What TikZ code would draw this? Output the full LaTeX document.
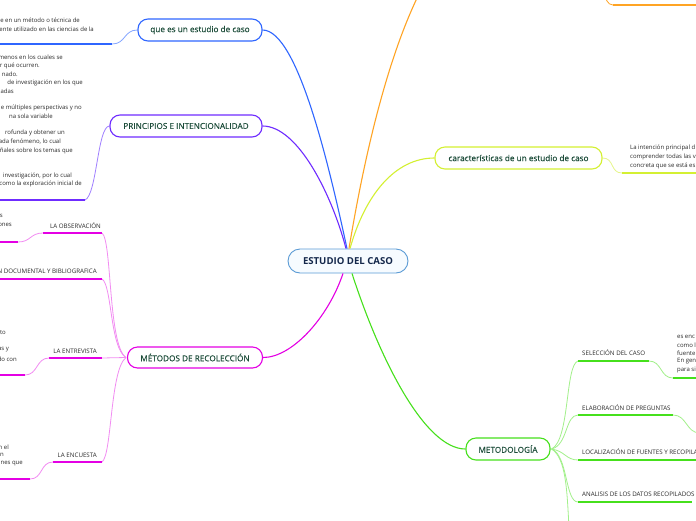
\documentclass[tikz,border=0pt]{standalone}
\usepackage{fontspec}
\setmainfont{Open Sans}
\newfontfamily\nodefam[FakeBold=0.3]{Open Sans}
\definecolor{cblue}{HTML}{5B9BD5}
\definecolor{cfill}{HTML}{F6FBFF}
\definecolor{ctext}{HTML}{14284B}
\definecolor{ntext}{HTML}{1D4D3A}
\definecolor{btext}{HTML}{2A2A2A}
\definecolor{qblue}{HTML}{2F66FF}
\definecolor{qbluel}{HTML}{85A6FF}
\definecolor{ppur}{HTML}{6F2CFF}
\definecolor{ppurl}{HTML}{A080FF}
\definecolor{mmag}{HTML}{E400E4}
\definecolor{mmagl}{HTML}{F28CF2}
\definecolor{kyel}{HTML}{D4F032}
\definecolor{kyell}{HTML}{E6F68A}
\definecolor{ggrn}{HTML}{46E01C}
\definecolor{ggrnl}{HTML}{A2F08A}
\definecolor{oorg}{HTML}{FFA424}
\tikzset{
  mainnode/.style={draw=#1, line width=1.1pt, rounded corners=10pt, fill=white, text=ntext,
    font=\nodefam\fontsize{8.2}{9}\selectfont, inner sep=0pt, minimum height=22pt},
  centralnode/.style={draw=cblue, line width=0.9pt, rounded corners=12pt, fill=cfill, text=ctext,
    font=\fontsize{9.6}{11}\selectfont\bfseries, inner sep=0pt, minimum height=24pt, minimum width=120pt},
  bodytext/.style={font=\fontsize{6.0}{7}\selectfont, text=btext, inner sep=0pt},
  labtext/.style={font=\fontsize{6.2}{7}\selectfont, text=btext, inner sep=0pt},
  conn/.style={draw=#1, line width=1.1pt},
  thinline/.style={draw=#1, line width=0.8pt},
  thickline/.style={draw=#1, line width=2pt}
}
\begin{document}
\begin{tikzpicture}[x=1pt,y=-1pt]
\clip (0,0) rectangle (696,520);
\fill[white] (0,0) rectangle (696,520);

% ---- main nodes
\node[centralnode] (c) at (348,261) {ESTUDIO DEL CASO};
\node[mainnode=qblue, minimum width=124pt] (q) at (200,30) {que es un estudio de caso};
\node[mainnode=ppur, minimum width=152pt, minimum height=22pt] (p) at (186,126) {PRINCIPIOS E INTENCIONALIDAD};
\node[mainnode=mmag, minimum width=135pt, minimum height=21pt] (m) at (195,357.5) {MÉTODOS DE RECOLECCIÓN};
\node[mainnode=kyel, minimum width=167pt] (k) at (518.5,158) {características de un estudio de caso};
\node[mainnode=ggrn, minimum width=84pt] (g) at (508,449) {METODOLOGÍA};

% ---- main connectors
\draw[conn=oorg] ([xshift=1pt]c.north) .. controls (362,170) and (385,60) .. (422,-12);
\draw[conn=kyel] ([xshift=2pt]c.north) .. controls (365,195) and (395,158) .. (k.west);
\draw[conn=qblue] ([xshift=-1pt]c.north) .. controls (330,170) and (298,30) .. (q.east);
\draw[conn=ppur] ([xshift=-2pt]c.north) .. controls (332,195) and (298,126) .. (p.east);
\draw[conn=mmag] ([xshift=-5pt]c.south) .. controls (328,318) and (292,357.5) .. (m.east);
\draw[conn=ggrn] ([xshift=4pt]c.south) .. controls (380,360) and (425,449) .. (g.west);

% ---- blue branch (left)
\coordinate (qa) at (112,44);
\coordinate (qb) at (-2,44);
\draw[thinline=qbluel] (q.west) .. controls +(-14,0) and +(14,0) .. (qa);
\draw[thickline=qblue] (qa) -- (qb);
\node[bodytext, anchor=east] (q1) at (80,20) {e en un método o técnica de};
\node[bodytext, anchor=east] (q2) at (94,29) {ente utilizado en las ciencias de la};

% ---- purple branch (left)
\coordinate (pa) at (85,200);
\coordinate (pb) at (-2,200);
\draw[thinline=ppurl] (p.west) .. controls +(-12,0) and +(12,-5) .. (pa);
\draw[thickline=ppur] (pa) -- (pb);
\node[bodytext, anchor=east] (p1) at (63,57) {menos en los cuales se};
\node[bodytext, anchor=east] (p2) at (40,66) {r qué ocurren.};
\node[bodytext, anchor=east] (p3) at (18,74) {nado.};
\node[bodytext, anchor=east] (p4) at (83,83) {de investigación en los que};
\node[bodytext, anchor=east] (p5) at (14,91) {adas};
\node[bodytext, anchor=east] (p6) at (82,108) {e múltiples perspectivas y no};
\node[bodytext, anchor=east] (p7) at (53,116) {na sola variable};
\node[bodytext, anchor=east] (p8) at (65,133) {rofunda y obtener un};
\node[bodytext, anchor=east] (p9) at (61,142) {ada fenómeno, lo cual};
\node[bodytext, anchor=east] (p10) at (73,151) {ñales sobre los temas que};
\node[bodytext, anchor=east] (p11) at (72,176) {investigación, por lo cual};
\node[bodytext, anchor=east] (p12) at (82,184) {como la exploración inicial de};

% ---- magenta sub-branches
\coordinate (mj) at ([xshift=-1pt]m.west);
\coordinate (oa) at (102,233);
\coordinate (ob) at (43,233);
\coordinate (oc) at (18,242);
\coordinate (od) at (-2,242);
\draw[thinline=mmagl] (mj) .. controls (108,345) and (112,240) .. (oa);
\draw[thickline=mmag] (oa) -- (ob);
\draw[thinline=mmagl] (ob) .. controls +(-13,0) and +(13,0) .. (oc);
\draw[thickline=mmag] (oc) -- (od);
\node[labtext, anchor=east] (o1) at (101,226) {LA OBSERVACIÓN};
\node[bodytext, anchor=east] (o2) at (3,216) {s};
\node[bodytext, anchor=east] (o3) at (12,225) {ones};

\coordinate (da) at (102,279);
\coordinate (db) at (-2,279);
\draw[thinline=mmagl] (mj) .. controls (110,348) and (112,285) .. (da);
\draw[thickline=mmag] (da) -- (db);
\node[labtext, anchor=east] (d1) at (97,271) {N DOCUMENTAL Y BIBLIOGRAFICA};

\coordinate (ea) at (102,358);
\coordinate (eb) at (49,358);
\coordinate (ec) at (25,375);
\coordinate (ed) at (-2,375);
\draw[thinline=mmagl] (mj) -- (ea);
\draw[thickline=mmag] (ea) -- (eb);
\draw[thinline=mmagl] (eb) .. controls +(-13,0) and +(13,0) .. (ec);
\draw[thickline=mmag] (ec) -- (ed);
\node[labtext, anchor=east] (e1) at (97,351) {LA ENTREVISTA};
\node[bodytext, anchor=east] (e2) at (6,333) {to};
\node[bodytext, anchor=east] (e3) at (9,350) {as y};
\node[bodytext, anchor=east] (e4) at (17,359) {do con};

\coordinate (na) at (102,462);
\coordinate (nb) at (53,462);
\coordinate (nc) at (30,479);
\coordinate (nd) at (-2,479);
\draw[thinline=mmagl] (mj) .. controls (110,370) and (112,455) .. (na);
\draw[thickline=mmag] (na) -- (nb);
\draw[thinline=mmagl] (nb) .. controls +(-13,0) and +(13,0) .. (nc);
\draw[thickline=mmag] (nc) -- (nd);
\node[labtext, anchor=east] (n1) at (97,455) {LA ENCUESTA};
\node[bodytext, anchor=east] (n2) at (9,447) {n el};
\node[bodytext, anchor=east] (n3) at (4,455) {n};
\node[bodytext, anchor=east] (n4) at (23,464) {nes que};

% ---- yellow branch (right)
\coordinate (ka) at (622,173);
\coordinate (kb) at (698,173);
\draw[thinline=kyell] (k.east) .. controls +(12,0) and +(-12,0) .. (ka);
\draw[thickline=kyel] (ka) -- (kb);
\node[bodytext, anchor=west] (k1) at (630,148) {La intención principal d};
\node[bodytext, anchor=west] (k2) at (630,157) {comprender todas las v};
\node[bodytext, anchor=west] (k3) at (630,166) {concreta que se está es};

% ---- orange top right
\coordinate (ta) at (613,5);
\coordinate (tb) at (698,5);
\coordinate (tc) at (604,-6);
\draw[thickline=oorg] (ta) -- (tb);
\draw[thinline=oorg] (ta) .. controls +(-6,0) and +(2,4) .. (tc);

% ---- green sub-branches
\coordinate (gj) at ([xshift=1pt]g.east);
\coordinate (sa) at (578,361);
\coordinate (sb) at (649,361);
\coordinate (sc) at (673,378);
\coordinate (sd) at (698,378);
\draw[thinline=ggrnl] (gj) .. controls (570,440) and (565,365) .. (sa);
\draw[thickline=ggrn] (sa) -- (sb);
\draw[thinline=ggrnl] (sb) .. controls +(13,0) and +(-13,0) .. (sc);
\draw[thickline=ggrn] (sc) -- (sd);
\node[labtext, anchor=west] (s1) at (582,353) {SELECCIÓN DEL CASO};
\node[bodytext, anchor=west] (s2) at (677,337) {es enc};
\node[bodytext, anchor=west] (s3) at (677,345) {como l};
\node[bodytext, anchor=west] (s4) at (677,353) {fuente};
\node[bodytext, anchor=west] (s5) at (677,361) {En gen};
\node[bodytext, anchor=west] (s6) at (677,370) {para si};

\coordinate (la) at (578,415);
\coordinate (lb) at (673,415);
\coordinate (lc) at (700,433);
\draw[thinline=ggrnl] (gj) .. controls (568,445) and (565,415) .. (la);
\draw[thickline=ggrn] (la) -- (lb);
\draw[thinline=ggrnl] (lb) .. controls +(14,0) and +(-14,0) .. (lc);
\node[labtext, anchor=west] (l1) at (582,408) {ELABORACIÓN DE PREGUNTAS};

\coordinate (fa) at (578,460);
\coordinate (fb) at (698,460);
\draw[thinline=ggrnl] (gj) .. controls (565,451) and (566,460) .. (fa);
\draw[thickline=ggrn] (fa) -- (fb);
\node[labtext, anchor=west] (f1) at (582,452) {LOCALIZACIÓN DE FUENTES Y RECOPILA};

\coordinate (aa) at (578,502);
\coordinate (ab) at (692,502);
\draw[thinline=ggrnl] (gj) .. controls (568,455) and (565,502) .. (aa);
\draw[thickline=ggrn] (aa) -- (ab);
\node[labtext, anchor=west] (a1) at (582,494) {ANALISIS DE LOS DATOS RECOPILADOS};

\coordinate (za) at (569,528);
\draw[thinline=ggrnl] (gj) .. controls (566,458) and (567,490) .. (za);
\end{tikzpicture}
\end{document}
